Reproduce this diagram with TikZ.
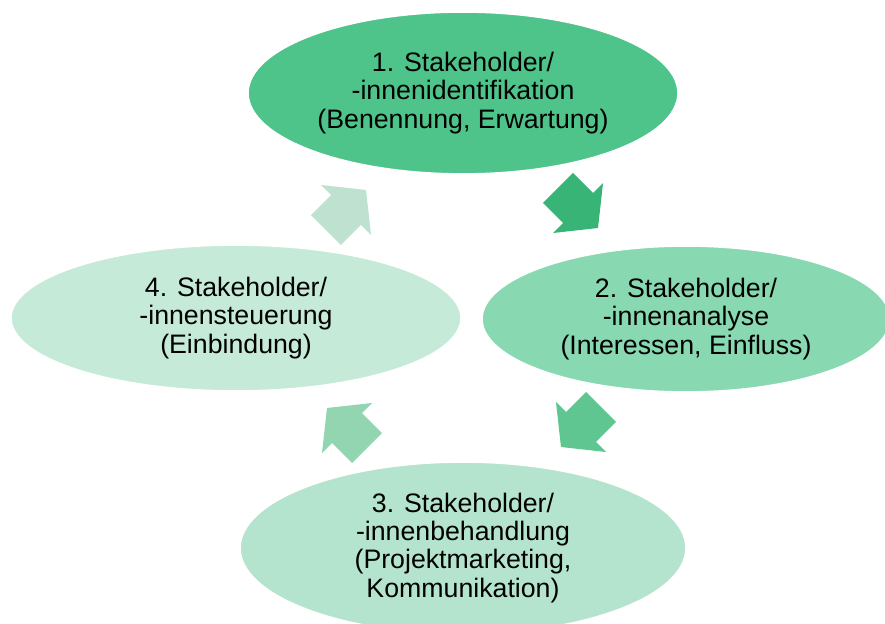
\documentclass[tikz,border=0pt]{standalone}
\usepackage{fontspec}
\setmainfont{Liberation Sans}
\usetikzlibrary{shapes.geometric}
\definecolor{phaseone}{RGB}{78,196,139}
\definecolor{phasetwo}{RGB}{136,216,177}
\definecolor{phasethree}{RGB}{180,228,206}
\definecolor{phasefour}{RGB}{197,234,216}
\definecolor{arrowone}{RGB}{56,181,118}
\definecolor{arrowtwo}{RGB}{95,198,145}
\definecolor{arrowthree}{RGB}{147,213,176}
\definecolor{arrowfour}{RGB}{190,226,207}
\tikzset{
  phase/.style={ellipse, draw=white, line width=1.2pt, inner sep=0pt,
    align=center, font=\fontsize{19}{20}\selectfont},
  blockarrow/.pic={
    \fill[pic actions] (-28.3,-21.2) -- (0,-21.2) -- (0,-35.4) -- (28.3,0)
      -- (0,35.4) -- (0,21.2) -- (-28.3,21.2) -- cycle;
  }
}
\begin{document}
\begin{tikzpicture}[x=0.025cm, y=0.025cm]
    \useasboundingbox (0,0) rectangle (885,623);
    % the four phases
    \node[phase, fill=phaseone, minimum width=10.75cm, minimum height=4.05cm] (ident) at (463,530)
      {1. Stakeholder/\\-innenidentifikation\\(Benennung, Erwartung)};
    \node[phase, fill=phasetwo, minimum width=10.2cm, minimum height=3.65cm] (analyse) at (686,304)
      {2. Stakeholder/\\-innenanalyse\\(Interessen, Einfluss)};
    \node[phase, fill=phasethree, minimum width=11.15cm, minimum height=4.3cm] (treat) at (463,75)
      {3. Stakeholder/\\-innenbehandlung\\(Projektmarketing,\\Kommunikation)};
    \node[phase, fill=phasefour, minimum width=11.25cm, minimum height=3.65cm] (steer) at (236,305)
      {4. Stakeholder/\\-innensteuerung\\(Einbindung)};
    % arrows of the cycle
    \pic[rotate=-45, fill=arrowone] (toanalyse) at (578,415) {blockarrow};
    \pic[rotate=-135, fill=arrowtwo] (totreat) at (581,196) {blockarrow};
    \pic[rotate=135, fill=arrowthree] (tosteer) at (347,195) {blockarrow};
    \pic[rotate=45, fill=arrowfour] (toident) at (346,413) {blockarrow};
  \end{tikzpicture}
\end{document}
